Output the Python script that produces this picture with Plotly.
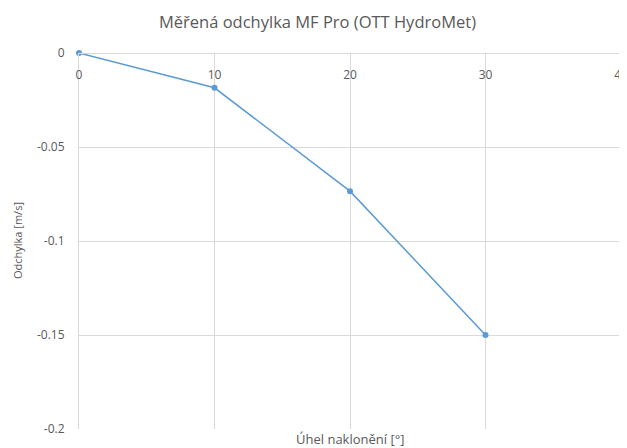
import plotly.graph_objects as go

# naklonění [°] vs. měřená odchylka [m/s]
angles = [0, 10, 20, 30]
deviation = [0.0, -0.0185, -0.0735, -0.150]

x_ticks = [0, 10, 20, 30, 40]
y_ticks = [0, -0.05, -0.1, -0.15, -0.2]
y_tick_text = ['0', '-0.05', '-0.1', '-0.15', '-0.2']

GRID = '#d9d9d9'
TEXT = '#595959'
FONT = 'Open Sans'

# the page body adds an 8px offset, so margins are shifted by it
fig = go.Figure()
fig.add_trace(
    go.Scatter(
        x=angles,
        y=deviation,
        mode='lines+markers',
        line=dict(color='#5b9bd5', width=1.5),
        marker=dict(color='#5b9bd5', size=6),
        showlegend=False,
        cliponaxis=False,
    )
)

fig.update_layout(
    width=627,
    height=448,
    paper_bgcolor='white',
    plot_bgcolor='white',
    margin=dict(l=71, r=14, t=45, b=27, autoexpand=False),
    font=dict(family=FONT, color=TEXT, size=12),
    title=dict(
        text='Měřená odchylka MF Pro (OTT HydroMet)',
        x=309.5 / 627,
        xref='container',
        y=1 - 14 / 448,
        yref='container',
        xanchor='center',
        yanchor='middle',
        font=dict(size=16.5, color=TEXT, family=FONT),
    ),
    xaxis=dict(
        range=[0, 40],
        tickvals=x_ticks,
        showgrid=True,
        gridcolor=GRID,
        gridwidth=1,
        zeroline=False,
        showline=True,
        linecolor=GRID,
        linewidth=1,
        anchor='free',
        position=1,
        side='bottom',
        ticks='outside',
        ticklen=11,
        tickcolor='rgba(0,0,0,0)',
        tickfont=dict(size=12, color=TEXT),
        automargin=False,
    ),
    yaxis=dict(
        range=[-0.2, 0],
        tickvals=y_ticks,
        ticktext=y_tick_text,
        showgrid=True,
        gridcolor=GRID,
        gridwidth=1,
        zeroline=False,
        showline=True,
        linecolor=GRID,
        linewidth=1,
        ticks='outside',
        ticklen=11,
        tickcolor='rgba(0,0,0,0)',
        tickfont=dict(size=12, color=TEXT),
        automargin=False,
    ),
    annotations=[
        dict(
            text='Úhel naklonění [°]',
            xref='paper',
            yref='paper',
            x=0.5,
            y=0,
            yshift=-10,
            xanchor='center',
            yanchor='middle',
            showarrow=False,
            font=dict(size=13, color=TEXT, family=FONT),
        ),
        dict(
            text='Odchylka [m/s]',
            xref='paper',
            yref='paper',
            x=0,
            xshift=-62,
            y=0.5,
            textangle=-90,
            xanchor='center',
            yanchor='middle',
            showarrow=False,
            font=dict(size=11, color=TEXT, family=FONT),
        ),
    ],
)

fig.write_html('out.html')
